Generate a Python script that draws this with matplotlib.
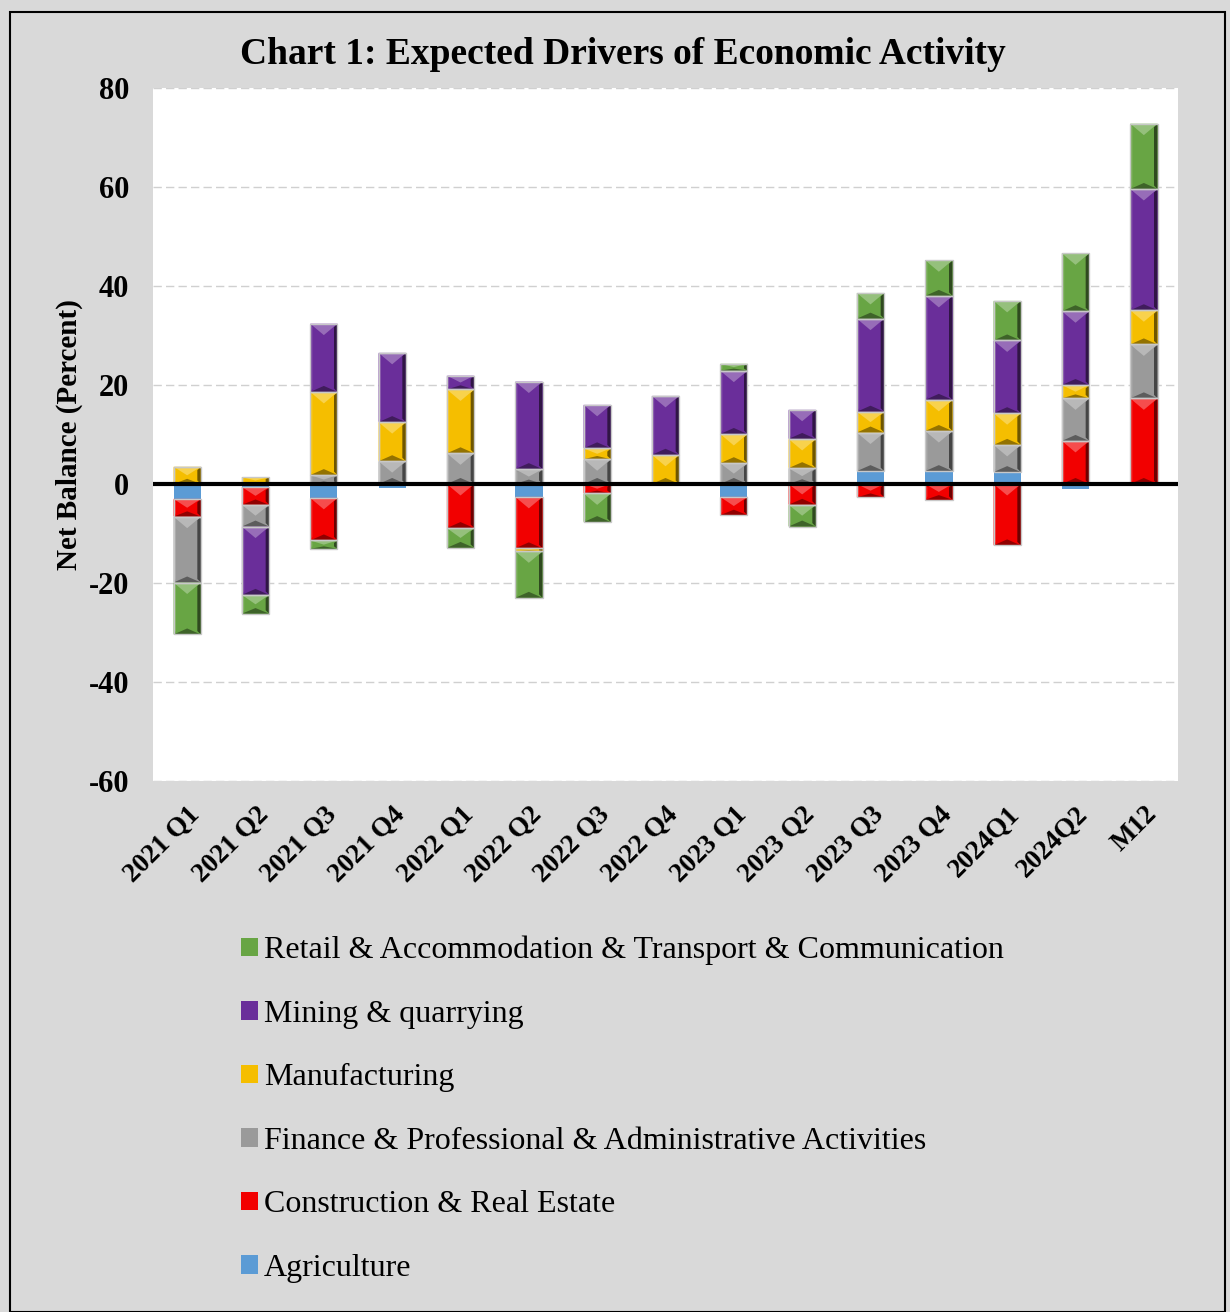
import matplotlib
matplotlib.use("Agg")
import matplotlib.pyplot as plt
import numpy as np
from matplotlib.patches import Rectangle, Patch, Polygon
from matplotlib.colors import to_rgb

categories = ["2021 Q1", "2021 Q2", "2021 Q3", "2021 Q4", "2022 Q1", "2022 Q2", "2022 Q3",
              "2022 Q4", "2023 Q1", "2023 Q2", "2023 Q3", "2023 Q4", "2024Q1", "2024Q2", "M12"]

agriculture = [-3.0, -0.6, -2.8, -0.8, 0, -2.6, 0, 0, -2.6, 0, 2.6, 2.6, 2.4, -1.0, 0]
construction = [-3.6, -3.6, -8.6, 0, -8.9, -10.4, -1.9, 0, -3.7, -4.2, -2.7, -3.2, -12.4, 8.7, 17.3]
finance = [-13.3, -4.4, 1.8, 4.6, 6.2, 3.0, 5.0, 0, 4.2, 3.2, 7.8, 8.1, 5.5, 8.6, 10.9]
manufacturing = [3.5, 1.4, 16.8, 7.9, 12.9, -0.6, 2.2, 5.9, 5.9, 5.9, 4.2, 6.3, 6.4, 2.7, 6.9]
mining = [0, -13.8, 13.8, 14.0, 2.8, 17.7, 8.8, 11.9, 12.8, 5.9, 18.8, 21.0, 14.7, 14.9, 24.5]
retail = [-10.5, -3.8, -1.7, 0, -4.0, -9.4, -5.8, 0, 1.4, -4.4, 5.2, 7.2, 8.0, 11.7, 13.2]

series_names = ["Agriculture", "Construction & Real Estate",
                "Finance & Professional & Administrative Activities", "Manufacturing",
                "Mining & quarrying", "Retail & Accommodation & Transport & Communication"]
series_values = [agriculture, construction, finance, manufacturing, mining, retail]
series_colors = ["#5b9bd5", "#f20000", "#9a9a9a", "#f5be00", "#6a2e9a", "#68a544"]

yticks = [-60, -40, -20, 0, 20, 40, 60, 80]

serif = ["Liberation Serif", "DejaVu Serif"]
W, H = 1230, 1312
BAR_W = 0.4


def shade(c, f):
    r = np.array(to_rgb(c))
    if f >= 0:
        return tuple(r + (1 - r) * f)
    return tuple(r * (1 + f))


fig = plt.figure(figsize=(W / 100, H / 100), dpi=100)
fig.patch.set_facecolor("#d9d9d9")
fig.patches.append(Rectangle((10 / W, 0), 1215 / W, 1 - 12 / H, transform=fig.transFigure,
                             fill=False, edgecolor="black", linewidth=1.5))

ax = fig.add_axes([153 / W, 1 - 781 / H, 1025 / W, 693 / H])
ax.set_facecolor("white")
ax.set_xlim(-0.5, len(categories) - 0.5)
ax.set_ylim(-60, 80)

# pixel -> data conversion factors from the axes' own scales
bbox = ax.get_window_extent()
px_x = (ax.get_xlim()[1] - ax.get_xlim()[0]) / bbox.width
px_y = (ax.get_ylim()[1] - ax.get_ylim()[0]) / bbox.height

x = np.arange(len(categories))
pos_bottom = np.zeros(len(categories))
neg_bottom = np.zeros(len(categories))
for name, vals, col in zip(series_names, series_values, series_colors):
    v = np.array(vals, dtype=float)
    bottom = np.where(v >= 0, pos_bottom, neg_bottom)
    ax.bar(x, v, width=BAR_W, bottom=bottom, color=col, edgecolor="none", zorder=3)
    if name != "Agriculture":
        for xi, b, h in zip(x, bottom, v):
            if h == 0:
                continue
            lo, hi = min(b, b + h), max(b, b + h)
            x0, x1 = xi - BAR_W / 2, xi + BAR_W / 2
            hpx = (hi - lo) / px_y
            wpx = BAR_W / px_x
            dt = min(0.42 * wpx, 0.5 * hpx) * px_y   # top bevel depth
            db = min(0.22 * wpx, 0.3 * hpx) * px_y   # bottom bevel depth
            s = min(3.5, 0.25 * wpx) * px_x           # side strip width
            sy = min(3.5, 0.3 * hpx) * px_y
            # right dark strip
            ax.add_patch(Polygon([(x1, hi), (x1, lo), (x1 - s, lo + sy), (x1 - s, hi - sy)],
                                 closed=True, facecolor=shade(col, -0.55), edgecolor="none", zorder=3.1))
            # left light strip
            ax.add_patch(Polygon([(x0, hi), (x0, lo), (x0 + s * 0.7, lo + sy), (x0 + s * 0.7, hi - sy)],
                                 closed=True, facecolor=shade(col, 0.12), edgecolor="none", zorder=3.1))
            # bottom dark roof
            ax.add_patch(Polygon([(x0, lo), (x1, lo), (xi, lo + db)],
                                 closed=True, facecolor=shade(col, -0.4), edgecolor="none", zorder=3.2))
            # top light V
            ax.add_patch(Polygon([(x0, hi), (x1, hi), (xi, hi - dt)],
                                 closed=True, facecolor=shade(col, 0.3), edgecolor="none", zorder=3.2))
        ax.bar(x, v, width=BAR_W, bottom=bottom, fill=False, edgecolor="#c8c8c8", linewidth=1.0, zorder=3.3)
    pos_bottom += np.where(v > 0, v, 0)
    neg_bottom += np.where(v < 0, v, 0)

ax.set_yticks(yticks)
ax.set_yticklabels([str(t) for t in yticks], fontfamily=serif, fontweight="bold", fontsize=22)
ax.set_xticks(x)
ax.set_xticklabels(categories, rotation=45, ha="right", rotation_mode="anchor",
                   fontfamily=serif, fontweight="bold", fontsize=19.5)
ax.tick_params(axis="y", length=0, pad=17)
ax.tick_params(axis="x", length=0, pad=15)
for t in yticks:
    if t != 0:
        ax.axhline(t, color="#d0d0d0", linestyle=(0, (6, 3)), linewidth=1.0, zorder=1)
ax.axhline(0, color="black", linewidth=3, zorder=5)
for sp in ax.spines.values():
    sp.set_visible(False)

ax.set_ylabel("Net Balance (Percent)", fontfamily=serif, fontweight="bold", fontsize=21)
ax.yaxis.set_label_coords(-70 / 1025, 0.5)

fig.text(0.506, 1 - 55 / H, "Chart 1: Expected Drivers of Economic Activity", ha="center", va="center",
         fontfamily=serif, fontweight="bold", fontsize=27)

handles = [Patch(facecolor=c, edgecolor="none") for c in series_colors][::-1]
labels = series_names[::-1]
fig.legend(handles, labels, loc="upper left", bbox_to_anchor=(212 / W, 1 - 907 / H),
           frameon=False, prop={"family": serif, "size": 23}, handlelength=0.53, handleheight=0.53,
           handletextpad=0.2, labelspacing=1.08)

fig.savefig("out.png", dpi=100, facecolor=fig.get_facecolor())
